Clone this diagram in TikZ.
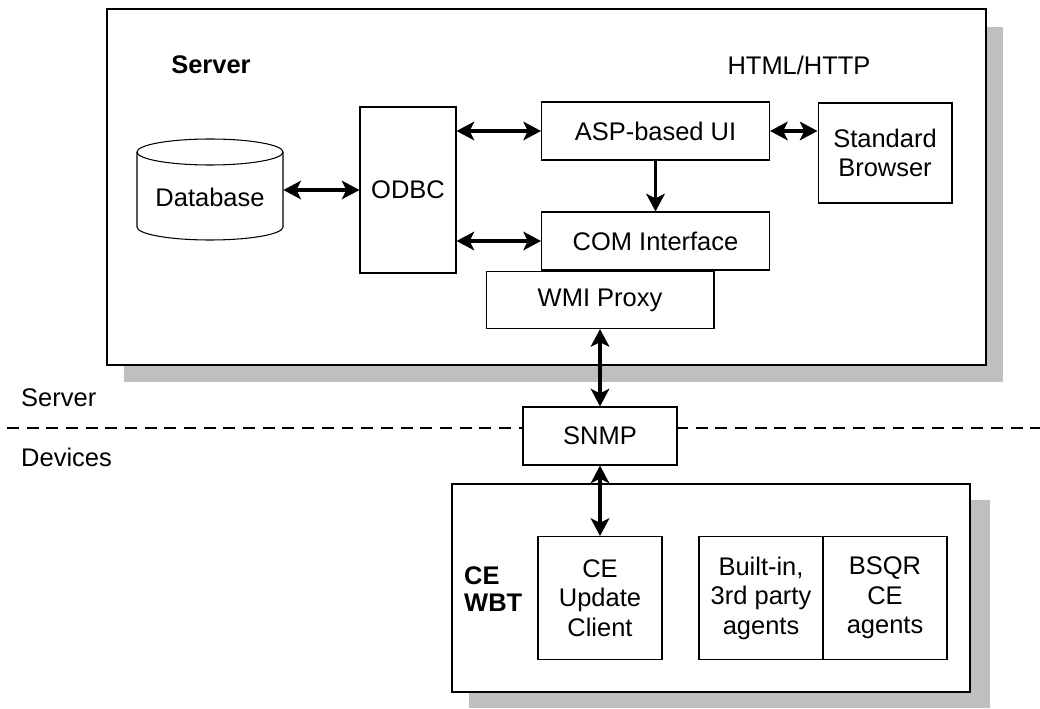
\documentclass[tikz,border=0pt]{standalone}
\usepackage{fontspec}
\setmainfont{Liberation Sans}
\usetikzlibrary{arrows.meta}

\begin{document}
\begin{tikzpicture}[x = 0.02cm, y = -0.02cm,
  every node/.style = {font = \fontsize{14.5}{16.8}\selectfont},
  box/.style = {draw, fill = white, line width = 0.6pt, align = center, inner sep = 0pt},
  shade/.style = {fill = black!25, draw = none},
  link/.style = {line width = 2pt, {Stealth[length = 10pt, width = 10.5pt, inset = 2.5pt]}-{Stealth[length = 10pt, width = 10.5pt, inset = 2.5pt]}},
  push/.style = {line width = 2pt, -{Stealth[length = 10pt, width = 10.5pt, inset = 2.5pt]}}]
\useasboundingbox (0,0) rectangle (1040,709);
\fill[shade] (124,27) rectangle (1003,382);
\draw[box] (107,9) rectangle (986,365);
\fill[shade] (469,500) rectangle (990,708);
\draw[box] (452,484) rectangle (970,692);
\draw[line width = 0.6pt, dash pattern = on 6.8pt off 4.4pt] (7,428)--(1040,428);
\node[font = \fontsize{14.5}{16.8}\selectfont\bfseries] (srvlabel) at (211,65) {Server};
\node (web) at (799,65) {HTML/HTTP};
\node[anchor = west] (srvside) at (15,398) {Server};
\node[anchor = west] (devside) at (15,457) {Devices};
\node[anchor = west, align = left, font = \fontsize{14.5}{15.8}\bfseries] (wbt) at (458,589) {CE\\WBT};
\draw[line width = 0.6pt, fill = white] (137,152)--(137,227) arc (180:360:1.46cm and 0.26cm)--(283,152);
\draw[line width = 0.6pt] (210,152) ellipse (1.46cm and 0.26cm);
\node[minimum width = 2.92cm] (db) at (210,197) {Database};
\node[box, minimum width = 1.92cm, minimum height = 3.32cm] (odbc) at (408,190) {ODBC};
\node[box, minimum width = 4.56cm, minimum height = 1.16cm] (asp) at (655.5,131) {ASP-based UI};
\node[box, minimum width = 4.56cm, minimum height = 1.16cm] (com) at (655.5,241) {COM Interface};
\node[box, minimum width = 4.56cm, minimum height = 1.14cm] (wmi) at (600,300) {WMI Proxy};
\node[box, minimum width = 2.68cm, minimum height = 2cm] (browser) at (885,153) {Standard\\Browser};
\node[box, minimum width = 3.08cm, minimum height = 1.16cm] (snmp) at (600,436) {SNMP};
\node[box, minimum width = 2.48cm, minimum height = 2.46cm] (client) at (600,598) {CE\\Update\\Client};
\node[box, minimum width = 2.48cm, minimum height = 2.46cm] (builtin) at (761,598) {Built-in,\\3rd party\\agents};
\node[box, minimum width = 2.48cm, minimum height = 2.46cm] (bsqr) at (885,598) {BSQR\\CE\\agents};
\draw[link] (odbc.west -| db.east)--(odbc.west);
\draw[link] (odbc.east |- asp.west)--(asp.west);
\draw[link] (odbc.east |- com.west)--(com.west);
\draw[push] (asp.south)--(com.north);
\draw[link] (asp.east)--(asp.east -| browser.west);
\draw[link] (wmi.south)--(snmp.north);
\draw[link] (snmp.south)--(client.north);
\end{tikzpicture}
\end{document}
